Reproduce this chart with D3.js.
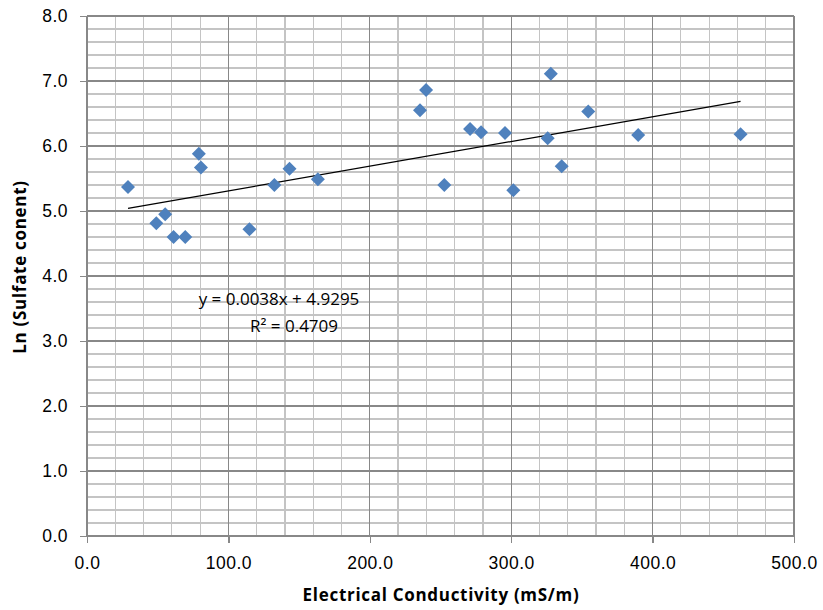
<!DOCTYPE html>
<html>
<head>
<meta charset="utf-8">
<style>
body { margin: 0; background: #fff; }
svg { display: block; font-family: "Open Sans", "Noto Sans", sans-serif; }
.minor line { stroke: #c4c4c4; stroke-width: 1.2px; shape-rendering: crispEdges; }
.major line { stroke: #888; stroke-width: 1.2px; shape-rendering: crispEdges; }
.axis text { font-size: 17.5px; fill: #000; letter-spacing: 0.5px; }
.axis path, .axis line { stroke: #888; stroke-width: 1.2px; shape-rendering: crispEdges; }
.title { font-size: 17px; font-weight: bold; letter-spacing: 0.7px; }
.eq { font-size: 17px; }
.trend { fill: none; stroke: #000; stroke-width: 1.3px; }
.pt { fill: #4f81bd; }
</style>
</head>
<body>
<script src="https://d3js.org/d3.v7.min.js"></script>
<script>
// EC (mS/m) vs ln(sulfate)
var ec = [29, 49, 55.3, 61.2, 69.5, 79.1, 80.6, 114.9, 132.5, 143.2, 163.3,
          235.5, 239.8, 252.7, 270.9, 278.7, 295.6, 301.5, 325.8, 328, 335.7,
          354.5, 389.8, 462.2];
var lnSulfate = [5.37, 4.81, 4.95, 4.60, 4.60, 5.88, 5.67, 4.72, 5.40, 5.65, 5.49,
                 6.55, 6.86, 5.40, 6.26, 6.21, 6.20, 5.32, 6.12, 7.11, 5.69,
                 6.53, 6.17, 6.18];
var slope = 0.0038, intercept = 4.9295;
var eqLines = ["y = 0.0038x + 4.9295", "R² = 0.4709"];
var xTicks = [0, 100, 200, 300, 400, 500];
var yTicks = [0, 1, 2, 3, 4, 5, 6, 7, 8];

var W = 823, H = 610;
var svg = d3.select("body").append("svg").attr("width", W).attr("height", H);

var x = d3.scaleLinear().domain([0, 500]).range([87, 794]);
var y = d3.scaleLinear().domain([0, 8]).range([536, 16]);

// minor grid
var g = svg.append("g").attr("class", "minor");
g.selectAll(".vx").data(d3.range(0, 501, 20)).enter().append("line")
  .attr("x1", d => x(d)).attr("x2", d => x(d)).attr("y1", y(0)).attr("y2", y(8));
g.selectAll(".hy").data(d3.range(0, 41).map(i => i * 0.2)).enter().append("line")
  .attr("x1", x(0)).attr("x2", x(500)).attr("y1", d => y(d)).attr("y2", d => y(d));

// major grid
var gm = svg.append("g").attr("class", "major");
gm.selectAll(".vx").data(xTicks).enter().append("line")
  .attr("x1", d => x(d)).attr("x2", d => x(d)).attr("y1", y(0)).attr("y2", y(8));
gm.selectAll(".hy").data(yTicks).enter().append("line")
  .attr("x1", x(0)).attr("x2", x(500)).attr("y1", d => y(d)).attr("y2", d => y(d));

// axes
svg.append("g").attr("class", "axis")
  .attr("transform", "translate(0," + y(0) + ")")
  .call(d3.axisBottom(x).tickValues(xTicks).tickFormat(d3.format(".1f")).tickSize(7).tickSizeOuter(0).tickPadding(14))
  .call(a => a.select(".domain").remove());
svg.append("g").attr("class", "axis")
  .attr("transform", "translate(" + x(0) + ",0)")
  .call(d3.axisLeft(y).tickValues(yTicks).tickFormat(d3.format(".1f")).tickSize(7).tickSizeOuter(0).tickPadding(12))
  .call(a => a.select(".domain").remove());

// trend line
var xr = d3.extent(ec);
svg.append("line").attr("class", "trend")
  .attr("x1", x(xr[0])).attr("y1", y(slope * xr[0] + intercept))
  .attr("x2", x(xr[1])).attr("y2", y(slope * xr[1] + intercept));

// points
svg.selectAll(".pt").data(ec).enter().append("path")
  .attr("class", "pt")
  .attr("transform", (d, i) => "translate(" + x(d) + "," + y(lnSulfate[i]) + ")")
  .attr("d", "M0,-7L7,0L0,7L-7,0Z");

// equation
svg.append("text").attr("class", "eq").attr("x", 279).attr("y", 305)
  .attr("text-anchor", "middle").text(eqLines[0]);
svg.append("text").attr("class", "eq").attr("x", 294).attr("y", 332)
  .attr("text-anchor", "middle").text(eqLines[1]);

// titles
svg.append("text").attr("class", "title").attr("x", 441).attr("y", 601)
  .attr("text-anchor", "middle").text("Electrical Conductivity (mS/m)");
svg.append("text").attr("class", "title")
  .attr("transform", "translate(26,267) rotate(-90)")
  .attr("text-anchor", "middle").text("Ln (Sulfate conent)");
</script>
</body>
</html>
